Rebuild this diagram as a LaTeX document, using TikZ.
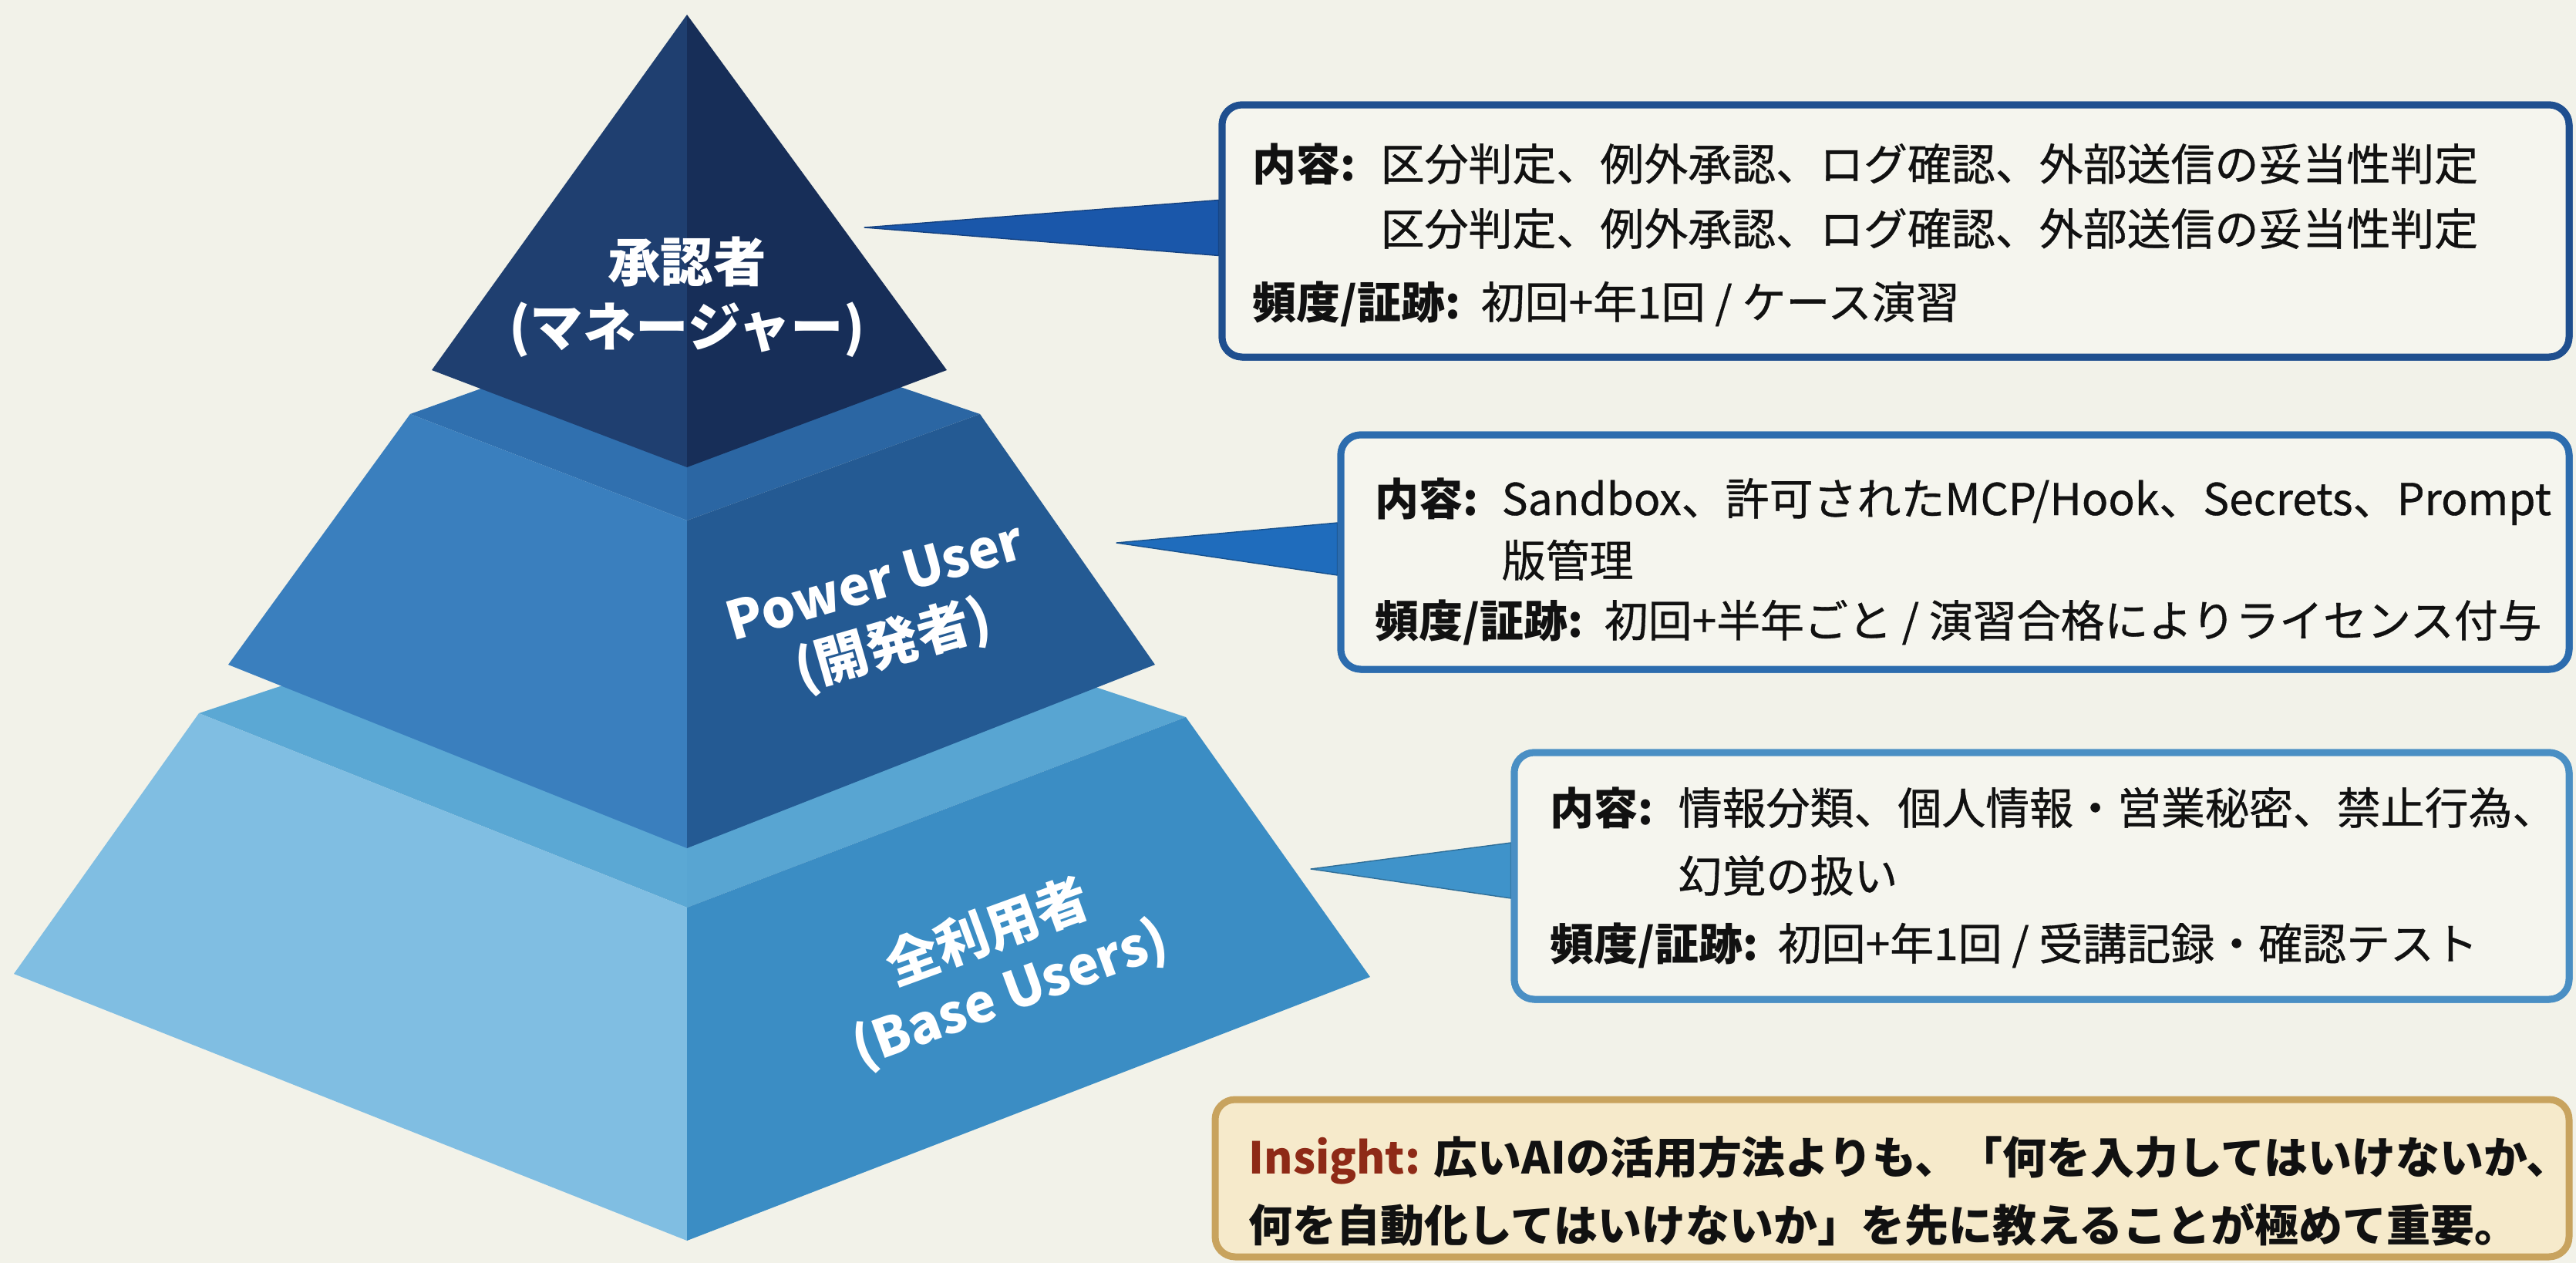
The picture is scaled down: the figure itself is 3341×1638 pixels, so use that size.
\documentclass[tikz,border=0pt]{standalone}
\usepackage{fontspec}
\setmainfont{Noto Sans CJK JP}
\newfontfamily\medjp{Noto Sans CJK JP}[FakeBold=0.6]
\usetikzlibrary{calc}
\definecolor{bg}{HTML}{F2F2E9}
\definecolor{boxfill}{HTML}{F5F5EE}
\definecolor{txt}{HTML}{111111}
\definecolor{topL}{HTML}{1F3F70}
\definecolor{topR}{HTML}{172E58}
\definecolor{midTL}{HTML}{3070AF}
\definecolor{midTR}{HTML}{2B66A3}
\definecolor{midL}{HTML}{3A7FBE}
\definecolor{midR}{HTML}{245A93}
\definecolor{botTL}{HTML}{5BA8D4}
\definecolor{botTR}{HTML}{58A5D2}
\definecolor{botL}{HTML}{80BEE2}
\definecolor{botR}{HTML}{3B8DC4}
\definecolor{cA}{HTML}{1A57AA}
\definecolor{cB}{HTML}{1F6CBC}
\definecolor{cC}{HTML}{3F93CA}
\definecolor{bA}{HTML}{1F4F8F}
\definecolor{bB}{HTML}{2C6CAE}
\definecolor{bC}{HTML}{4A8FC4}
\definecolor{insB}{HTML}{C8A35E}
\definecolor{insF}{HTML}{F6EACB}
\definecolor{insR}{HTML}{8E2A17}
\tikzset{
  face/.style={line join=round},
  tierlabel/.style={text=white, font=\fontsize{19.5pt}{24pt}\selectfont\bfseries, align=center, inner sep=0pt},
  infobox/.style={draw=#1, line width=0.9mm, rounded corners=2.6mm, fill=boxfill, inner sep=0pt},
  lbl/.style={anchor=base west, inner sep=0pt, text=txt, font=\fontsize{16.2pt}{19pt}\selectfont\bfseries},
  ctt/.style={anchor=base west, inner sep=0pt, text=txt, font=\fontsize{16.2pt}{19pt}\selectfont\medjp},
  callout/.style={fill=#1, draw=#1!75!black, line width=0.4pt, line join=round}
}
\begin{document}
\begin{tikzpicture}[x=0.1mm,y=-0.1mm]
\useasboundingbox (0,0) rectangle (3341,1638);
\fill[bg] (0,0) rectangle (3341,1638);

% ---------- pyramid coordinates ----------
\coordinate (A) at (891,19);
\coordinate (TL) at (560,480);
\coordinate (TR) at (1228,480);
\coordinate (TF) at (891,606);
\coordinate (ML) at (532,537);
\coordinate (MB) at (891,408);
\coordinate (MR) at (1271,537);
\coordinate (MF) at (891,675);
\coordinate (MLb) at (296,862);
\coordinate (MFb) at (891,1100);
\coordinate (MRb) at (1498,862);
\coordinate (BL) at (258,925);
\coordinate (BB) at (891,715);
\coordinate (BR) at (1538,930);
\coordinate (BF) at (891,1177);
\coordinate (BLb) at (18,1263);
\coordinate (BFb) at (891,1609);
\coordinate (BRb) at (1777,1267);

% bottom tier
\fill[face, botTL] (BL) -- (BB) -- (BF) -- cycle;
\fill[face, botTR] (BB) -- (BR) -- (BF) -- cycle;
\fill[face, botL] (BL) -- (BF) -- (BFb) -- (BLb) -- cycle;
\fill[face, botR] (BF) -- (BR) -- (BRb) -- (BFb) -- cycle;
% middle tier
\fill[face, midTL] (ML) -- (MB) -- (MF) -- cycle;
\fill[face, midTR] (MB) -- (MR) -- (MF) -- cycle;
\fill[face, midL] (ML) -- (MF) -- (MFb) -- (MLb) -- cycle;
\fill[face, midR] (MF) -- (MR) -- (MRb) -- (MFb) -- cycle;
% top tier
\fill[face, topL] (A) -- (TL) -- (TF) -- cycle;
\fill[face, topR] (A) -- (TF) -- (TR) -- cycle;

% tier labels
\node[tierlabel] (t1) at (891,385) {承認者\\(マネージャー)};
\node[tierlabel, rotate=16] (t2) at (1148,800) {Power User\\(開発者)};
\node[tierlabel, rotate=20] (t3) at (1296,1250) {全利用者\\(Base Users)};

% ---------- boxes ----------
\coordinate (tip1) at (1121,295);
\coordinate (tip2) at (1448,704);
\coordinate (tip3) at (1700,1127);

\node[infobox=bA, minimum width=174.7mm, minimum height=32.7mm] (box1) at (2458.5,299.5) {};
\node[infobox=bB, minimum width=159.3mm, minimum height=30.4mm] (box2) at (2535.5,716) {};
\node[infobox=bC, minimum width=136.8mm, minimum height=32.0mm] (box3) at (2648,1136) {};

\fill[callout=cA] (tip1) -- ($(box1.west)+(0,-40)$) -- ($(box1.west)+(0,32)$) -- cycle;
\fill[callout=cB] (tip2) -- ($(box2.west)+(0,-38)$) -- ($(box2.west)+(0,30)$) -- cycle;
\fill[callout=cC] (tip3) -- ($(box3.west)+(0,-43)$) -- ($(box3.west)+(0,29)$) -- cycle;

\node[infobox=bA, minimum width=174.7mm, minimum height=32.7mm] (box1f) at (box1) {};
\node[infobox=bB, minimum width=159.3mm, minimum height=30.4mm] (box2f) at (box2) {};
\node[infobox=bC, minimum width=136.8mm, minimum height=32.0mm] (box3f) at (box3) {};
\node[infobox=insB, fill=insF, minimum width=175.6mm, minimum height=20.4mm] (box4) at (2454,1528) {};

% box 1 text
\node[lbl] (b1l1) at (1624,234) {内容:};
\node[ctt] (b1c1) at (1790,234) {区分判定、例外承認、ログ確認、外部送信の妥当性判定};
\node[ctt] (b1c2) at (1790,318) {区分判定、例外承認、ログ確認、外部送信の妥当性判定};
\node[lbl] (b1l3) at (1624,413) {頻度/証跡:};
\node[ctt] (b1c3) at (1920,413) {初回+年1回 / ケース演習};

% box 2 text
\node[lbl] (b2l1) at (1783,668) {内容:};
\node[ctt] (b2c1) at (1947,668) {Sandbox、許可されたMCP/Hook、Secrets、Prompt};
\node[ctt] (b2c2) at (1947,748) {版管理};
\node[lbl] (b2l3) at (1783,826) {頻度/証跡:};
\node[ctt] (b2c3) at (2080,826) {初回+半年ごと / 演習合格によりライセンス付与};

% box 3 text
\node[lbl] (b3l1) at (2010,1069) {内容:};
\node[ctt] (b3c1) at (2176,1069) {情報分類、個人情報・営業秘密、禁止行為、};
\node[ctt] (b3c2) at (2176,1157) {幻覚の扱い};
\node[lbl] (b3l3) at (2010,1245) {頻度/証跡:};
\node[ctt] (b3c3) at (2305,1245) {初回+年1回 / 受講記録・確認テスト};

% box 4 text
\node[lbl] (b4l1) at (1619,1522) {\textcolor{insR}{Insight:} 広いAIの活用方法よりも、「何を入力してはいけないか、};
\node[lbl] (b4l2) at (1619,1610) {何を自動化してはいけないか」を先に教えることが極めて重要。};
\end{tikzpicture}
\end{document}
